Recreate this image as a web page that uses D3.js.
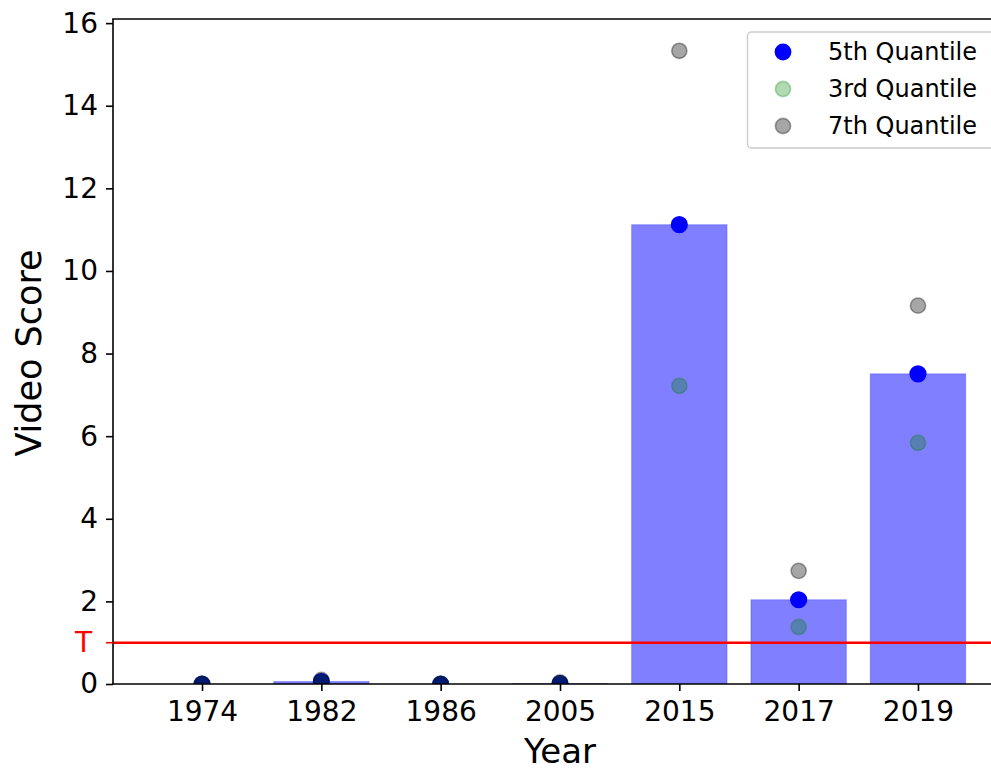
<!DOCTYPE html>
<html>
<head>
<meta charset="utf-8">
<script src="https://cdn.jsdelivr.net/npm/d3@7"></script>
<style>
  html, body { margin: 0; padding: 0; background: #fff; }
  svg { display: block; font-family: "DejaVu Sans", sans-serif; }
</style>
</head>
<body>
<svg id="chart" width="991" height="771"></svg>
<script>
// Video score per release year
const years = ["1974", "1982", "1986", "2005", "2015", "2017", "2019"];
const q5 = [0, 0.06, 0, 0.01, 11.12, 2.04, 7.51];   // 5th quantile (also bar height)
const q3 = [0, 0.03, 0, 0.01, 7.22, 1.38, 5.84];    // 3rd quantile
const q7 = [0, 0.1, 0, 0.04, 15.33, 2.74, 9.16];    // 7th quantile
const threshold = 1.0;
const yTicks = [0, 2, 4, 6, 8, 10, 12, 14, 16];
const seriesNames = ["5th Quantile", "3rd Quantile", "7th Quantile"];

const svg = d3.select("#chart");
const plotLeft = 113, plotRight = 1007, plotTop = 19, plotBottom = 684;

// categorical positions on a continuous axis with margins around the bars
const x = d3.scaleLinear().domain([-0.746, years.length - 1 + 0.746]).range([plotLeft, plotRight]);
const y = d3.scaleLinear().domain([0, 16.1]).range([plotBottom, plotTop]);
const barW = x(0.8) - x(0);

svg.append("defs").append("clipPath").attr("id", "plot")
  .append("rect").attr("x", plotLeft).attr("y", plotTop)
  .attr("width", plotRight - plotLeft).attr("height", plotBottom - plotTop);

const plot = svg.append("g").attr("clip-path", "url(#plot)");

// bars
plot.selectAll("rect.bar").data(years).join("rect")
  .attr("class", "bar")
  .attr("x", (d, i) => x(i) - barW / 2)
  .attr("width", barW)
  .attr("y", (d, i) => y(q5[i]))
  .attr("height", (d, i) => y(0) - y(q5[i]))
  .attr("fill", "blue").attr("fill-opacity", 0.5)
  .attr("stroke", "blue").attr("stroke-opacity", 0.25).attr("stroke-width", 1);

// threshold line
plot.append("line")
  .attr("x1", plotLeft).attr("x2", plotRight)
  .attr("y1", y(threshold)).attr("y2", y(threshold))
  .attr("stroke", "red").attr("stroke-width", 2.6);

function dots(values, color, alpha, r) {
  plot.append("g").selectAll("circle").data(values).join("circle")
    .attr("cx", (d, i) => x(i))
    .attr("cy", d => y(d))
    .attr("r", r)
    .attr("fill", color).attr("fill-opacity", alpha)
    .attr("stroke", color).attr("stroke-opacity", alpha).attr("stroke-width", 1.6);
}
dots(q5, "blue", 1, 7.8);
dots(q3, "green", 0.3, 7.6);
dots(q7, "black", 0.35, 7.6);

// spines
const spine = svg.append("g").attr("stroke", "#000").attr("stroke-width", 1.6).attr("fill", "none");
spine.append("line").attr("x1", plotLeft).attr("x2", plotLeft).attr("y1", plotTop).attr("y2", plotBottom + 0.8);
spine.append("line").attr("x1", plotLeft - 0.8).attr("x2", 991).attr("y1", plotBottom).attr("y2", plotBottom);
spine.append("line").attr("x1", plotLeft - 0.8).attr("x2", 991).attr("y1", plotTop).attr("y2", plotTop);

// y axis
const yAxis = svg.append("g").attr("transform", `translate(${plotLeft},0)`)
  .call(d3.axisLeft(y).tickValues(yTicks).tickFormat(d3.format("d")).tickSize(7).tickPadding(8));
yAxis.select(".domain").remove();
yAxis.selectAll(".tick line").attr("stroke-width", 1.6);
yAxis.selectAll(".tick text").attr("font-size", 28).attr("font-family", "DejaVu Sans").attr("fill", "#000");

// threshold tick and label
svg.append("line").attr("x1", plotLeft - 7).attr("x2", plotLeft)
  .attr("y1", y(threshold)).attr("y2", y(threshold))
  .attr("stroke", "red").attr("stroke-width", 1.6);
svg.append("text").attr("x", plotLeft - 21).attr("y", y(threshold))
  .attr("dy", "0.35em").attr("text-anchor", "end")
  .attr("font-size", 28).attr("fill", "red").text("T");

// x axis
const xAxis = svg.append("g").attr("transform", `translate(0,${plotBottom})`)
  .call(d3.axisBottom(x).tickValues(d3.range(years.length)).tickFormat(i => years[i]).tickSize(7).tickPadding(10));
xAxis.select(".domain").remove();
xAxis.selectAll(".tick line").attr("stroke-width", 1.6);
xAxis.selectAll(".tick text").attr("font-size", 28).attr("font-family", "DejaVu Sans").attr("fill", "#000");

// axis titles
svg.append("text").attr("x", (plotLeft + plotRight) / 2).attr("y", 763)
  .attr("text-anchor", "middle").attr("font-size", 34).text("Year");
svg.append("text").attr("transform", `translate(41,353) rotate(-90)`)
  .attr("text-anchor", "middle").attr("font-size", 35).text("Video Score");

// legend
const lg = svg.append("g");
lg.append("rect").attr("x", 747.5).attr("y", 32).attr("width", 260).attr("height", 116)
  .attr("rx", 4).attr("fill", "#fff").attr("fill-opacity", 0.8)
  .attr("stroke", "#cccccc").attr("stroke-width", 1.4);
const legendStyle = [
  { color: "blue", alpha: 1 },
  { color: "green", alpha: 0.3 },
  { color: "black", alpha: 0.35 }
];
seriesNames.forEach((name, k) => {
  const cy = 52 + k * 37;
  lg.append("circle").attr("cx", 783).attr("cy", cy).attr("r", 7.6)
    .attr("fill", legendStyle[k].color).attr("fill-opacity", legendStyle[k].alpha)
    .attr("stroke", legendStyle[k].color).attr("stroke-opacity", legendStyle[k].alpha).attr("stroke-width", 1.6);
  lg.append("text").attr("x", 828).attr("y", cy).attr("dy", "0.35em")
    .attr("font-size", 24).attr("fill", "#000").text(name);
});
</script>
</body>
</html>
